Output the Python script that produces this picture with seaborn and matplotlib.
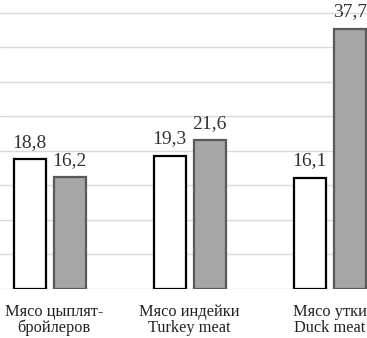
import matplotlib
matplotlib.use("Agg")
import matplotlib.pyplot as plt
import matplotlib.transforms as mtransforms
import seaborn as sns
import pandas as pd

# values
categories = ["Мясо цыплят-\nбройлеров", "Мясо индейки\nTurkey meat", "Мясо утки\nDuck meat"]
series_names = ["Серия 1", "Серия 2"]
series1 = [18.8, 19.3, 16.1]
series2 = [16.2, 21.6, 37.7]

df = pd.DataFrame({
    "cat": categories * 2,
    "series": [series_names[0]] * 3 + [series_names[1]] * 3,
    "value": series1 + series2,
})

sns.set_style("white")
plt.rcParams["font.family"] = ["Liberation Serif", "DejaVu Serif"]

fig = plt.figure(figsize=(3.67, 3.38), dpi=100)
ax = fig.add_axes([0, 49 / 338, 1, 289 / 338])

sns.barplot(data=df, x="cat", y="value", hue="series",
            palette=["white", "#a6a6a6"], width=0.572, gap=0.2,
            legend=False, ax=ax, zorder=3)

edges = ["black", "#595959"]
for cont, ec, vals in zip(ax.containers, edges, [series1, series2]):
    for bar in cont:
        bar.set_edgecolor(ec)
        bar.set_linewidth(1.6)
    ax.bar_label(cont, labels=[f"{v:.1f}".replace(".", ",") for v in vals],
                 padding=6, fontsize=14, color="#333333")

ax.set_xlim(-0.355, 2.266)
ax.set_ylim(0, 41.88)
ax.set_yticks(range(0, 41, 5))
ax.yaxis.grid(True, color="#d9d9d9", linewidth=1.0, zorder=0)
ax.set_axisbelow(True)
ax.set_yticklabels([])
ax.tick_params(axis="y", length=0)
ax.tick_params(axis="x", length=0, pad=11, labelsize=11.8, labelcolor="#222222")
ax.set_xlabel("")
ax.set_ylabel("")
for s in ax.spines.values():
    s.set_visible(False)

labels = ax.get_xticklabels()
for t in labels:
    t.set_linespacing(0.95)
# first label sits a little right of its bar pair
shift = mtransforms.ScaledTranslation(4.5 / 100, 0, fig.dpi_scale_trans)
labels[0].set_transform(labels[0].get_transform() + shift)

fig.savefig("out.png", dpi=100)
